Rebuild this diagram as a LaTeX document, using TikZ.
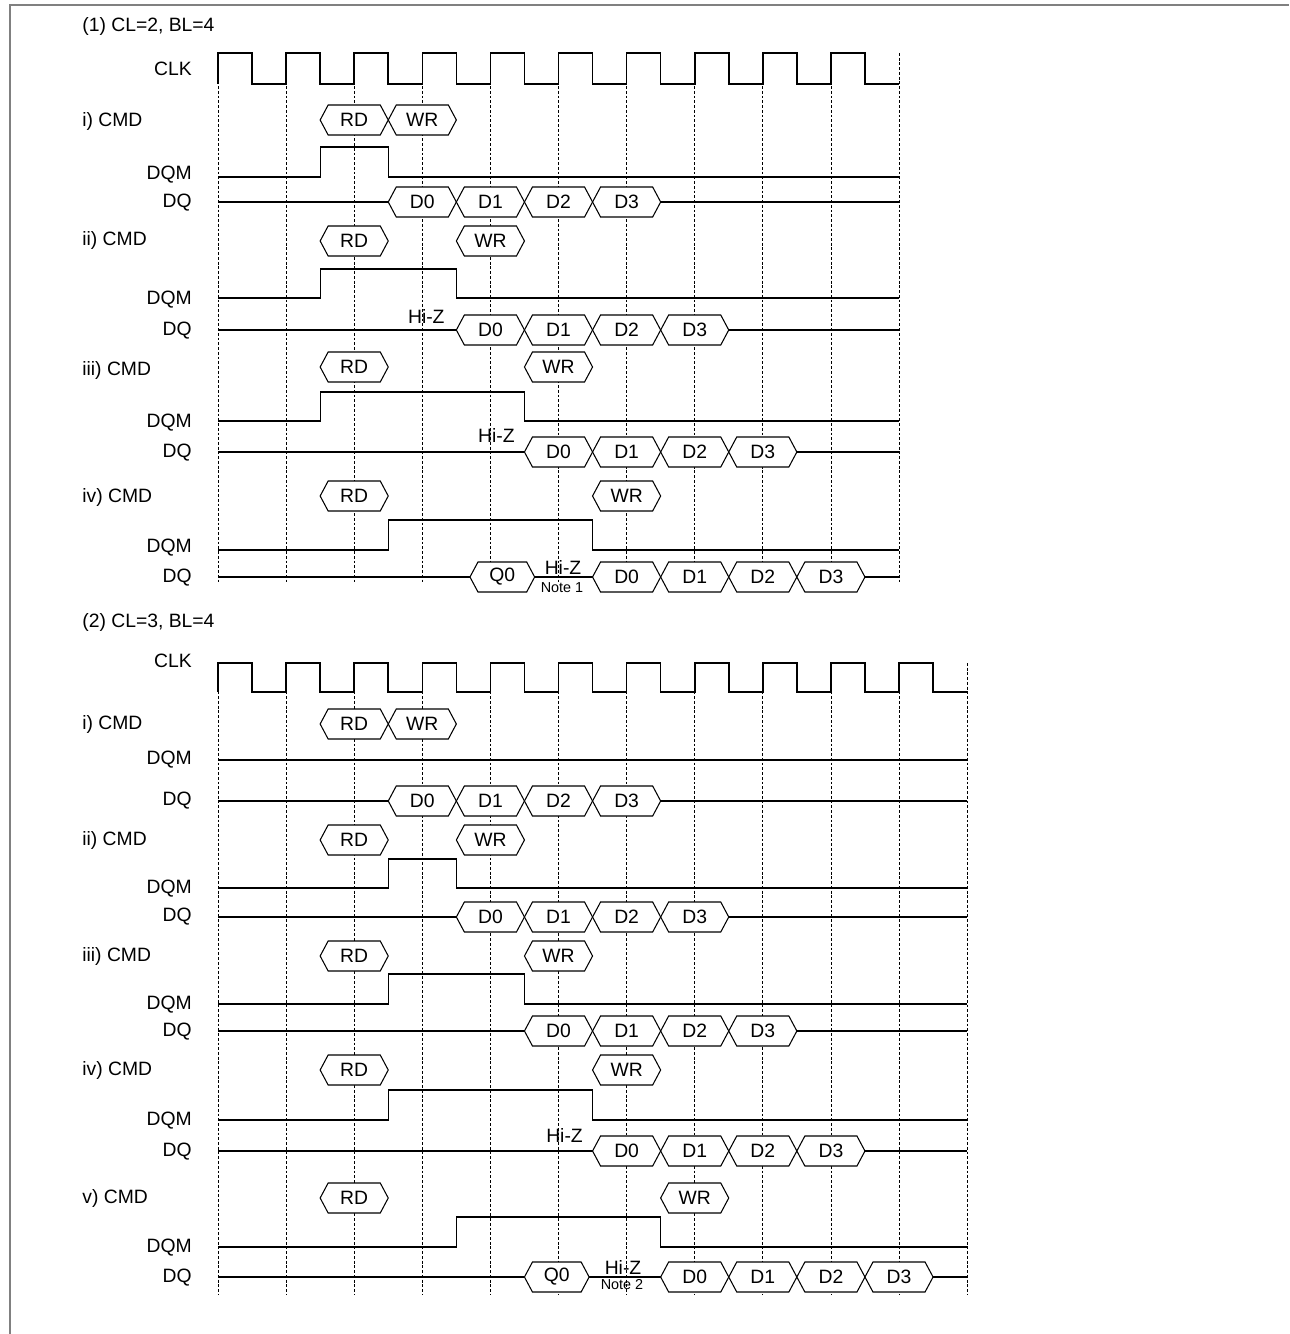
\documentclass[tikz,border=0pt]{standalone}
\usepackage{fontspec}
\setmainfont{Liberation Sans}
\begin{document}
\begin{tikzpicture}[x=0.02cm,y=-0.02cm,
  font=\fontsize{11}{13}\selectfont,
  sig/.style={line width=0.7pt},
  clkline/.style={line width=0.9pt},
  tick/.style={dash pattern=on 1.6pt off 1.1pt,line width=0.45pt},
  busbox/.style={line width=0.6pt,fill=white},
  lbl/.style={anchor=east,inner sep=0pt},
  cmdlbl/.style={anchor=west,inner sep=0pt},
  note/.style={font=\fontsize{8.2}{9}\selectfont}]
\def\xo{218}
\def\per{68.1}
% clock: high y, low y, last period
\def\clk#1#2#3{\draw[clkline] (\xo,#2) \foreach \k in {0,...,#3} { -- ({\xo+\per*\k},#1) -- ({\xo+\per*(\k+0.5)},#1) -- ({\xo+\per*(\k+0.5)},#2) -- ({\xo+\per*(\k+1)},#2) };}
% bus cell from t=#1 to t=#2 on row #3
\def\seg#1#2#3#4#5{\draw[busbox] ({\xo+\per*(#1)},#3) -- ({\xo+\per*(#1)+8},#3-15) -- ({\xo+\per*(#2)-8},#3-15) -- ({\xo+\per*(#2)},#3) -- ({\xo+\per*(#2)-8},#3+15) -- ({\xo+\per*(#1)+8},#3+15) -- cycle;
  \node (#5) at ({\xo+\per*((#1)+(#2))/2},#3) {#4};}
% dqm: high, low, rise, fall, end
\def\dqm#1#2#3#4#5{\draw[sig] (\xo,#2) -- ({\xo+\per*#3},#2) -- ({\xo+\per*#3},#1) -- ({\xo+\per*#4},#1) -- ({\xo+\per*#4},#2) -- ({\xo+\per*#5},#2);}
\def\dqline#1#2{\draw[sig] (\xo,#1) -- ({\xo+\per*#2},#1);}
\def\dqrow#1#2#3{\foreach \n in {0,...,3} {\seg{#1+\n}{#1+\n+1}{#2}{D\n}{#3\n}}}
\useasboundingbox (0,0) rectangle (1289,1334);
\draw[gray,line width=1.1pt] (10,1334) -- (10,5) -- (1289,5);

% (1) CL=2
\node[cmdlbl] (ttlA) at (82,27) {(1) CL=2, BL=4};
\foreach \k in {0,...,10} \draw[tick] ({\xo+\per*\k},53) -- ({\xo+\per*\k},583);
\clk{53}{84}{9}
\node[lbl] (clkA) at (192,69) {CLK};

\node[cmdlbl] (cmdA1) at (82,122) {i) CMD};
\seg{1.5}{2.5}{120}{RD}{rdA1} \seg{2.5}{3.5}{120}{WR}{wrA1}
\node[lbl] (dqmA1) at (192,175) {DQM};
\dqm{147}{177}{1.5}{2.5}{10}
\node[lbl] (dqA1) at (192,203) {DQ};
\dqline{202}{10} \dqrow{2.5}{202}{dA1}

\node[cmdlbl] (cmdA2) at (82,241) {ii) CMD};
\seg{1.5}{2.5}{241}{RD}{rdA2} \seg{3.5}{4.5}{241}{WR}{wrA2}
\node[lbl] (dqmA2) at (192,300) {DQM};
\dqm{269}{298}{1.5}{3.5}{10}
\node[lbl] (dqA2) at (192,331) {DQ};
\dqline{330}{10} \dqrow{3.5}{330}{dA2}
\node (hzA2) at ({\xo+\per*3+4},316) {Hi-Z};

\node[cmdlbl] (cmdA3) at (82,370) {iii) CMD};
\seg{1.5}{2.5}{367}{RD}{rdA3} \seg{4.5}{5.5}{367}{WR}{wrA3}
\node[lbl] (dqmA3) at (192,423) {DQM};
\dqm{392}{421}{1.5}{4.5}{10}
\node[lbl] (dqA3) at (192,453) {DQ};
\dqline{452}{10} \dqrow{4.5}{452}{dA3}
\node (hzA3) at ({\xo+\per*4+6},435) {Hi-Z};

\node[cmdlbl] (cmdA4) at (82,497) {iv) CMD};
\seg{1.5}{2.5}{496}{RD}{rdA4} \seg{5.5}{6.5}{496}{WR}{wrA4}
\node[lbl] (dqmA4) at (192,548) {DQM};
\dqm{520}{550}{2.5}{5.5}{10}
\node[lbl] (dqA4) at (192,578) {DQ};
\dqline{577}{10}
\seg{3.7}{4.65}{577}{Q0}{qA4} \dqrow{5.5}{577}{dA4}
\node (hzA4) at (563,567) {Hi-Z};
\node[note] (ntA4) at (562,588) {Note 1};

% (2) CL=3
\node[cmdlbl] (ttlB) at (82,622) {(2) CL=3, BL=4};
\foreach \k in {0,...,11} \draw[tick] ({\xo+\per*\k},663) -- ({\xo+\per*\k},1295);
\clk{663}{692}{10}
\node[lbl] (clkB) at (192,661) {CLK};

\node[cmdlbl] (cmdB1) at (82,724) {i) CMD};
\seg{1.5}{2.5}{724}{RD}{rdB1} \seg{2.5}{3.5}{724}{WR}{wrB1}
\node[lbl] (dqmB1) at (192,760) {DQM};
\dqline{760}{11}
\node[lbl] (dqB1) at (192,801) {DQ};
\dqline{801}{11} \dqrow{2.5}{801}{dB1}

\node[cmdlbl] (cmdB2) at (82,840) {ii) CMD};
\seg{1.5}{2.5}{840}{RD}{rdB2} \seg{3.5}{4.5}{840}{WR}{wrB2}
\node[lbl] (dqmB2) at (192,889) {DQM};
\dqm{859}{888}{2.5}{3.5}{11}
\node[lbl] (dqB2) at (192,917) {DQ};
\dqline{917}{11} \dqrow{3.5}{917}{dB2}

\node[cmdlbl] (cmdB3) at (82,956) {iii) CMD};
\seg{1.5}{2.5}{956}{RD}{rdB3} \seg{4.5}{5.5}{956}{WR}{wrB3}
\node[lbl] (dqmB3) at (192,1005) {DQM};
\dqm{974}{1004}{2.5}{4.5}{11}
\node[lbl] (dqB3) at (192,1032) {DQ};
\dqline{1031}{11} \dqrow{4.5}{1031}{dB3}

\node[cmdlbl] (cmdB4) at (82,1070) {iv) CMD};
\seg{1.5}{2.5}{1070}{RD}{rdB4} \seg{5.5}{6.5}{1070}{WR}{wrB4}
\node[lbl] (dqmB4) at (192,1121) {DQM};
\dqm{1090}{1120}{2.5}{5.5}{11}
\node[lbl] (dqB4) at (192,1152) {DQ};
\dqline{1151}{11} \dqrow{5.5}{1151}{dB4}
\node (hzB4) at ({\xo+\per*5+6},1135) {Hi-Z};

\node[cmdlbl] (cmdB5) at (82,1198) {v) CMD};
\seg{1.5}{2.5}{1198}{RD}{rdB5} \seg{6.5}{7.5}{1198}{WR}{wrB5}
\node[lbl] (dqmB5) at (192,1248) {DQM};
\dqm{1217}{1247}{3.5}{6.5}{11}
\node[lbl] (dqB5) at (192,1278) {DQ};
\dqline{1277}{11}
\seg{4.5}{5.45}{1277}{Q0}{qB5} \dqrow{6.5}{1277}{dB5}
\node (hzB5) at (623,1267) {Hi-Z};
\node[note] (ntB5) at (622,1285) {Note 2};
\end{tikzpicture}
\end{document}
